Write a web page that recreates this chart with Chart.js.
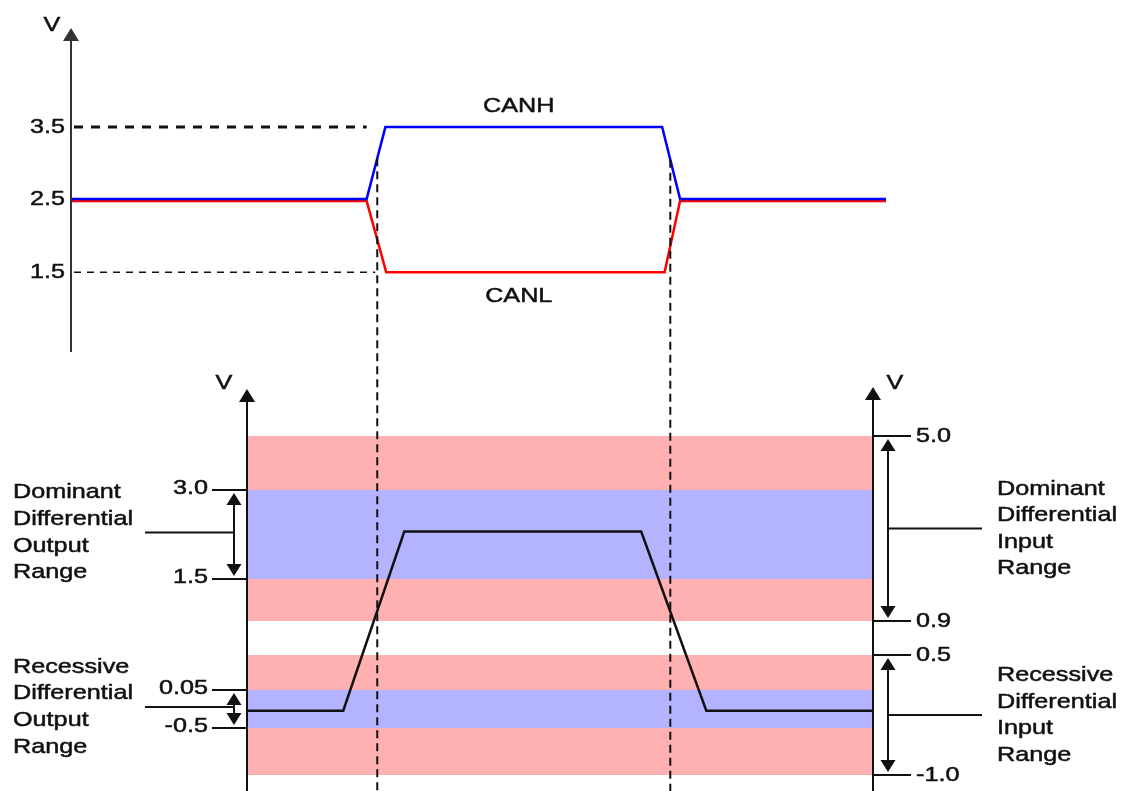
<!DOCTYPE html>
<html>
<head>
<meta charset="utf-8">
<title>CAN bus levels</title>
<script src="https://cdn.jsdelivr.net/npm/chart.js@4/dist/chart.umd.min.js"></script>
<style>
  html, body { margin: 0; padding: 0; background: #fff; }
  #wrap { position: relative; width: 1122px; height: 791px; }
  #wrap canvas { position: absolute; left: 0; top: 0; }
</style>
</head>
<body>
<div id="wrap">
  <canvas id="diffChart" width="1122" height="791"></canvas>
  <canvas id="busChart" width="1122" height="791"></canvas>
</div>
<script>
// Bus levels (upper panel), time in arbitrary units
var busTime = [0, 36.2, 38.5, 72.5, 74.7, 100];
var canhVolts = [2.51, 2.51, 3.5, 3.5, 2.51, 2.51];
var canlTime = [0, 36.2, 38.6, 72.8, 74.7, 100];
var canlVolts = [2.48, 2.48, 1.5, 1.5, 2.48, 2.48];
var busTicks = [1.5, 2.5, 3.5];
var sampleTimes = [37.5, 73.5];

// Differential voltage (lower panel)
var diffTime = [21.6, 33.3, 40.8, 69.9, 77.9, 98.5];
var diffVolts = [-0.25, -0.25, 2.3, 2.3, -0.25, -0.25];
var outputTicks = [3.0, 1.5, 0.05, -0.5];
var inputTicks = [5.0, 0.9, 0.5, -1.0];
var outputRanges = [[1.5, 3.0], [-0.5, 0.05]];
var inputRanges = [[0.9, 5.0], [-1.0, 0.5]];
var outputLabels = [['Dominant', 'Differential', 'Output', 'Range'], ['Recessive', 'Differential', 'Output', 'Range']];
var inputLabels = [['Dominant', 'Differential', 'Input', 'Range'], ['Recessive', 'Differential', 'Input', 'Range']];

// the lower voltage axis is not drawn to scale: value -> share of axis height
var diffStops = [[-1.0, 0], [-0.5, 0.1386], [0.05, 0.2507], [0.5, 0.354], [0.9, 0.4543], [1.5, 0.578], [3.0, 0.8407], [5.0, 1]];

var FONT = '21px "Liberation Sans", Arial, sans-serif';
var SX = 1.2; // text in the drawing is a bit wide
var INK = '#111';

class PiecewiseScale extends Chart.LinearScale {
  getPixelForValue(value) {
    if (value === null || value === undefined) return NaN;
    var s = diffStops;
    var i = 1;
    while (i < s.length - 1 && value > s[i][0]) i++;
    var f = s[i - 1][1] + (value - s[i - 1][0]) / (s[i][0] - s[i - 1][0]) * (s[i][1] - s[i - 1][1]);
    return this.getPixelForDecimal(f);
  }
  getValueForPixel(pixel) {
    var d = this.getDecimalForPixel(pixel);
    var s = diffStops;
    var i = 1;
    while (i < s.length - 1 && d > s[i][1]) i++;
    return s[i - 1][0] + (d - s[i - 1][1]) / (s[i][1] - s[i - 1][1]) * (s[i][0] - s[i - 1][0]);
  }
}
PiecewiseScale.id = 'piecewise';
PiecewiseScale.defaults = Chart.LinearScale.defaults;
Chart.register(PiecewiseScale);

function pts(xs, ys) {
  return xs.map(function(x, i) { return {x: x, y: ys[i]}; });
}

function fmt(v) {
  return v % 1 === 0 ? v.toFixed(1) : String(v);
}

function seg(ctx, x1, y1, x2, y2) {
  ctx.beginPath();
  ctx.moveTo(x1, y1);
  ctx.lineTo(x2, y2);
  ctx.stroke();
}

function txt(ctx, s, x, y, align) {
  ctx.save();
  ctx.translate(x, y);
  ctx.scale(SX, 1);
  ctx.font = FONT;
  ctx.fillStyle = INK;
  ctx.strokeStyle = INK;
  ctx.lineWidth = 0.5;
  ctx.setLineDash([]);
  ctx.textAlign = align;
  ctx.textBaseline = 'middle';
  ctx.fillText(s, 0, 0);
  ctx.strokeText(s, 0, 0);
  ctx.restore();
}

// dir -1 = pointing up, 1 = pointing down
function head(ctx, x, tipY, dir, w, h) {
  ctx.beginPath();
  ctx.moveTo(x, tipY);
  ctx.lineTo(x - w / 2, tipY - dir * h);
  ctx.lineTo(x + w / 2, tipY - dir * h);
  ctx.closePath();
  ctx.fill();
}

function axisUp(ctx, x, tipY, bottomY, color) {
  ctx.strokeStyle = color;
  ctx.fillStyle = color;
  ctx.lineWidth = 2;
  ctx.setLineDash([]);
  seg(ctx, x, bottomY, x, tipY + 10);
  head(ctx, x, tipY, -1, 16, 13);
}

function doubleArrow(ctx, x, y1, y2) {
  ctx.strokeStyle = INK;
  ctx.fillStyle = INK;
  ctx.lineWidth = 2;
  seg(ctx, x, y1 + 8, x, y2 - 8);
  head(ctx, x, y1, -1, 15, 12);
  head(ctx, x, y2, 1, 15, 12);
}

function valueAt(xs, ys, t) {
  for (var i = 1; i < xs.length; i++) {
    if (t <= xs[i]) return ys[i - 1] + (t - xs[i - 1]) / (xs[i] - xs[i - 1]) * (ys[i] - ys[i - 1]);
  }
  return ys[ys.length - 1];
}

var busDecor = {
  id: 'busDecor',
  beforeDatasetsDraw: function(chart) {
    var ctx = chart.ctx, xs = chart.scales.x, ys = chart.scales.y, a = chart.chartArea;
    var hi = ys.getPixelForValue(Math.max.apply(null, canhVolts));
    var lo = ys.getPixelForValue(Math.min.apply(null, canlVolts));
    ctx.save();
    ctx.strokeStyle = INK;
    ctx.lineWidth = 3;
    ctx.setLineDash([9, 8]);
    seg(ctx, a.left + 2, hi, xs.getPixelForValue(busTime[1]), hi);
    ctx.lineWidth = 1.5;
    ctx.setLineDash([7, 6]);
    seg(ctx, a.left + 2, lo, xs.getPixelForValue(sampleTimes[0]) - 2, lo);
    ctx.restore();
  },
  afterDatasetsDraw: function(chart) {
    var ctx = chart.ctx, xs = chart.scales.x, ys = chart.scales.y, a = chart.chartArea;
    ctx.save();
    axisUp(ctx, a.left - 1, a.top - 12, a.bottom, '#333');
    txt(ctx, 'V', a.left - 20, a.top - 15, 'center');
    busTicks.forEach(function(v) {
      txt(ctx, fmt(v), a.left - 7, ys.getPixelForValue(v), 'right');
    });
    var mid = xs.getPixelForValue((busTime[2] + busTime[3]) / 2) - 5;
    txt(ctx, 'CANH', mid, ys.getPixelForValue(Math.max.apply(null, canhVolts)) - 21, 'center');
    txt(ctx, 'CANL', mid, ys.getPixelForValue(Math.min.apply(null, canlVolts)) + 24, 'center');
    // sample points run down through the lower panel
    ctx.strokeStyle = INK;
    ctx.lineWidth = 2;
    ctx.setLineDash([8, 5]);
    sampleTimes.forEach(function(t) {
      var px = xs.getPixelForValue(t);
      seg(ctx, px, ys.getPixelForValue(valueAt(busTime, canhVolts, t)), px, chart.height);
    });
    ctx.restore();
  }
};

var diffDecor = {
  id: 'diffDecor',
  beforeDatasetsDraw: function(chart) {
    var ctx = chart.ctx, ys = chart.scales.y, a = chart.chartArea;
    ctx.save();
    ctx.fillStyle = '#ffb0b0';
    inputRanges.forEach(function(r) {
      var t = ys.getPixelForValue(r[1]), b = ys.getPixelForValue(r[0]);
      ctx.fillRect(a.left, t, a.right - a.left, b - t);
    });
    ctx.fillStyle = '#b3b3ff';
    outputRanges.forEach(function(r) {
      var t = ys.getPixelForValue(r[1]), b = ys.getPixelForValue(r[0]);
      ctx.fillRect(a.left, t, a.right - a.left, b - t);
    });
    ctx.restore();
  },
  afterDatasetsDraw: function(chart) {
    var ctx = chart.ctx, ys = chart.scales.y, a = chart.chartArea;
    ctx.save();
    var tip = a.top - 47;
    axisUp(ctx, a.left - 1, tip, chart.height, INK);
    axisUp(ctx, a.right - 1, tip - 2, chart.height, INK);
    txt(ctx, 'V', a.left - 24, tip - 6, 'center');
    txt(ctx, 'V', a.right + 21, tip - 6, 'center');

    ctx.strokeStyle = INK;
    ctx.lineWidth = 2;
    outputTicks.forEach(function(v) {
      var py = ys.getPixelForValue(v);
      ctx.lineWidth = 2;
      seg(ctx, a.left - 36, py, a.left, py);
      txt(ctx, fmt(v), a.left - 40, py - 2, 'right');
    });
    inputTicks.forEach(function(v) {
      var py = ys.getPixelForValue(v);
      ctx.lineWidth = 2;
      seg(ctx, a.right, py, a.right + 37, py);
      txt(ctx, fmt(v), a.right + 42, py, 'left');
    });

    outputRanges.forEach(function(r, i) {
      var t = ys.getPixelForValue(r[1]), b = ys.getPixelForValue(r[0]);
      var ax = a.left - 14;
      doubleArrow(ctx, ax, t + 3, b - 3);
      var m = (t + b) / 2 - 2;
      ctx.lineWidth = 2;
      seg(ctx, 145, m, ax, m);
      outputLabels[i].forEach(function(s, k) {
        txt(ctx, s, 13, m + (k - 1.5) * 26.7, 'left');
      });
    });
    inputRanges.forEach(function(r, i) {
      var t = ys.getPixelForValue(r[1]), b = ys.getPixelForValue(r[0]);
      var ax = a.right + 14;
      doubleArrow(ctx, ax, t + 3, b - 3);
      var m = (t + b) / 2;
      ctx.lineWidth = 2;
      seg(ctx, ax, m, 982, m);
      inputLabels[i].forEach(function(s, k) {
        txt(ctx, s, 997, m + (k - 1.5) * 26.5, 'left');
      });
    });
    ctx.restore();
  }
};

var common = {
  responsive: false,
  devicePixelRatio: 1,
  animation: false,
  events: [],
  plugins: { legend: { display: false }, tooltip: { enabled: false } },
  elements: { point: { radius: 0 }, line: { tension: 0, borderWidth: 2.5 } }
};

new Chart(document.getElementById('diffChart'), {
  type: 'line',
  data: {
    datasets: [{
      label: 'VDIFF',
      data: pts(diffTime, diffVolts),
      borderColor: '#111',
      borderWidth: 2.5,
      fill: false
    }]
  },
  options: Object.assign({}, common, {
    layout: { padding: { left: 248, right: 248, top: 436, bottom: 16 } },
    scales: {
      x: { type: 'linear', min: diffTime[0], max: diffTime[diffTime.length - 1], display: false },
      y: { type: 'piecewise', min: -1.0, max: 5.0, display: false }
    }
  }),
  plugins: [diffDecor]
});

new Chart(document.getElementById('busChart'), {
  type: 'line',
  data: {
    datasets: [{
      label: 'CANH',
      data: pts(busTime, canhVolts),
      borderColor: '#0000ff',
      borderWidth: 2.5,
      fill: false
    }, {
      label: 'CANL',
      data: pts(canlTime, canlVolts),
      borderColor: '#ff0000',
      borderWidth: 2.5,
      fill: false
    }]
  },
  options: Object.assign({}, common, {
    layout: { padding: { left: 72, right: 236, top: 40, bottom: 439 } },
    scales: {
      x: { type: 'linear', min: 0, max: 100, display: false },
      y: { type: 'linear', min: 0.4, max: 4.7, display: false }
    }
  }),
  plugins: [busDecor]
});
</script>
</body>
</html>
